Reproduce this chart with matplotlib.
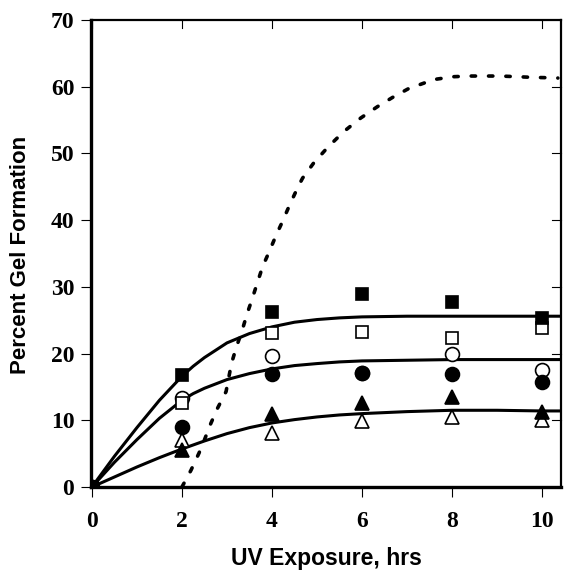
import numpy as np
import matplotlib.pyplot as plt

# measured gel formation (%) at each UV exposure time
hours = [0, 2, 4, 6, 8, 10]
filled_square = [0, 16.8, 26.3, 29.0, 27.7, 25.3]
open_square = [0, 12.6, 23.1, 23.3, 22.3, 23.9]
open_circle = [0, 13.4, 19.7, 17.1, 19.9, 17.6]
filled_circle = [0, 9.0, 17.0, 17.1, 17.0, 15.8]
filled_triangle = [0, 5.6, 11.0, 12.6, 13.5, 11.3]
open_triangle = [0, 7.0, 8.1, 9.9, 10.5, 10.0]

# fitted curves
fit_x = [0, 0.5, 1, 1.5, 2, 2.25, 2.5, 3, 3.5, 4, 4.5, 5, 5.5, 6, 7, 8, 9, 10, 10.4]
fit_high = [0, 4.6, 8.9, 13.0, 16.6, 18.1, 19.4, 21.6, 23.0, 24.0, 24.7, 25.1, 25.35,
            25.5, 25.6, 25.6, 25.6, 25.6, 25.6]
fit_mid = [0, 3.7, 7.1, 10.3, 13.0, 14.0, 14.8, 16.1, 17.0, 17.7, 18.2, 18.5, 18.75,
           18.9, 19.0, 19.1, 19.1, 19.1, 19.1]
fit_low = [0, 1.5, 3.0, 4.4, 5.7, 6.3, 6.9, 8.0, 8.9, 9.6, 10.1, 10.5, 10.8, 11.0,
           11.3, 11.5, 11.5, 11.4, 11.4]

# dotted reference curve
dot_x = [2.0, 2.2, 2.38, 2.49, 2.64, 2.79, 2.98, 3.1, 3.21, 3.33, 3.44, 3.55, 3.67,
         3.79, 3.94, 4.09, 4.24, 4.4, 4.58, 4.68, 4.93, 5.25, 5.6, 5.97, 6.34, 6.68,
         7.03, 7.4, 7.62, 8.03, 8.39, 8.73, 9.07, 9.44, 9.8, 10.12, 10.35]
dot_y = [0.0, 2.5, 5.1, 6.9, 9.5, 11.8, 14.3, 18.5, 21.0, 23.3, 25.8, 28.0, 30.5,
         33.0, 35.3, 37.7, 39.9, 42.4, 45.0, 46.3, 48.6, 51.0, 53.3, 55.3, 57.0, 58.4,
         59.7, 60.6, 61.1, 61.5, 61.6, 61.6, 61.6, 61.5, 61.4, 61.35, 61.3]

fig = plt.figure(figsize=(5.65, 5.72), dpi=100)
ax = fig.add_axes([91 / 565, 1 - 487 / 572, 470 / 565, 467 / 572])

ax.plot(dot_x, dot_y, color="black", lw=2.6, linestyle=(0, (1.2, 3.6)),
        dash_capstyle="round", zorder=2)
for ys in (fit_high, fit_mid, fit_low):
    ax.plot(fit_x, ys, color="black", lw=2.2, zorder=2)

mk = dict(color="black", linestyle="none", zorder=3, markeredgewidth=1.2)
ax.plot(hours, open_circle, "o", mfc="white", ms=10, **mk)
ax.plot(hours, open_square, "s", mfc="white", ms=9, **mk)
ax.plot(hours, open_triangle, "^", mfc="white", ms=10, **mk)
ax.plot(hours, filled_circle, "o", ms=10, **mk)
ax.plot(hours, filled_triangle, "^", ms=10, **mk)
ax.plot(hours, filled_square, "s", ms=9, **mk)

ax.set_xlim(-0.02, 10.42)
ax.set_ylim(0, 70)
ax.set_xticks([0, 2, 4, 6, 8, 10])
ax.set_yticks(range(0, 71, 10))

for side in ("left", "bottom"):
    ax.spines[side].set_linewidth(2.4)
for side in ("top", "right"):
    ax.spines[side].set_linewidth(1.6)

ax.tick_params(axis="both", which="major", direction="out", length=7, width=0.8,
               colors="black")
ax.tick_params(axis="x", pad=10)
ax.tick_params(axis="y", pad=5)
for t in ax.get_xticklabels() + ax.get_yticklabels():
    t.set_fontfamily("Liberation Serif")
    t.set_fontweight("bold")
    t.set_fontsize(17)

# inward ticks on the top and right spines
for x in [0, 2, 4, 6, 8, 10]:
    ax.plot([x, x], [70, 68.8], color="black", lw=0.8, clip_on=False)
for y in range(10, 70, 10):
    ax.plot([10.42, 10.22], [y, y], color="black", lw=0.8, clip_on=False)

fig.text(326 / 565, 1 - 559 / 572, "UV Exposure, hrs", ha="center", va="center",
         fontfamily="Liberation Sans", fontweight="bold", fontsize=16.5)
fig.text(21 / 565, 1 - 255 / 572, "Percent Gel Formation", ha="center", va="center",
         rotation=90, fontfamily="Liberation Sans", fontweight="bold", fontsize=16)

fig.savefig("out.png", dpi=100)
